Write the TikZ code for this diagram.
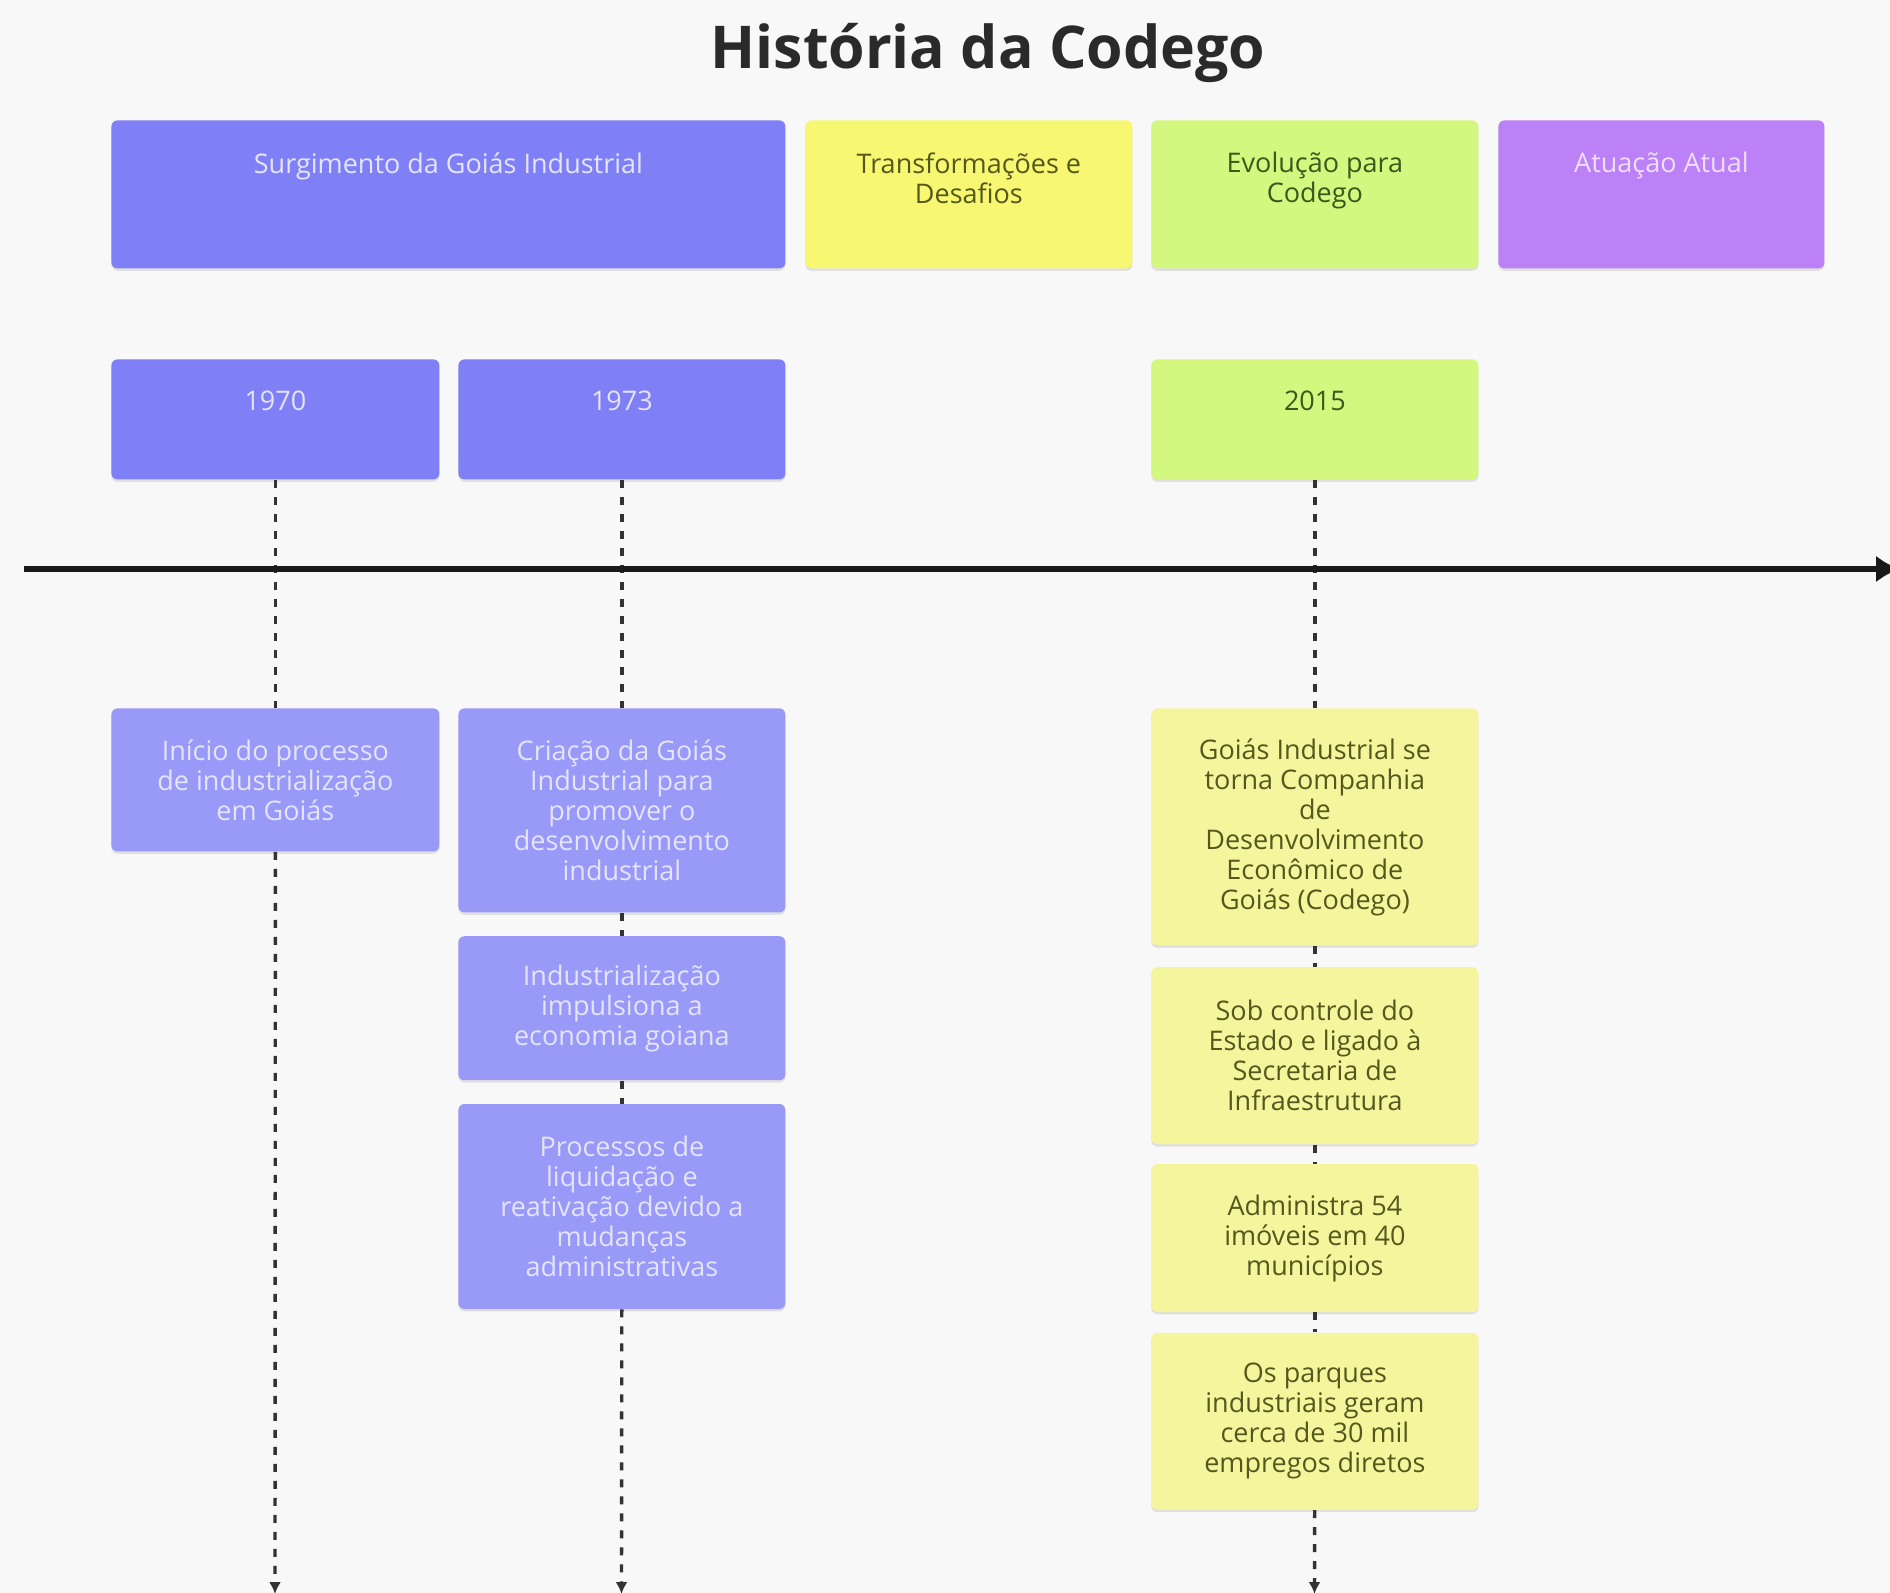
\documentclass[tikz,border=0pt]{standalone}
\usepackage{fontspec}
\setmainfont{Open Sans}
\usetikzlibrary{positioning,arrows.meta,shadows}
\definecolor{CodegoBg}{RGB}{248,248,248}
\definecolor{CodegoBlue}{RGB}{128,128,246}
\definecolor{CodegoBlueLight}{RGB}{153,153,248}
\definecolor{CodegoYellow}{RGB}{247,247,114}
\definecolor{CodegoYellowLight}{RGB}{245,245,157}
\definecolor{CodegoGreen}{RGB}{212,247,128}
\definecolor{CodegoPurple}{RGB}{188,128,247}
\definecolor{CodegoTextLight}{RGB}{228,228,255}
\definecolor{CodegoTextOlive}{RGB}{84,88,28}
\definecolor{CodegoTextGreen}{RGB}{60,88,26}
\definecolor{CodegoTextPurple}{RGB}{238,222,255}
\definecolor{CodegoTitle}{RGB}{42,42,42}

\begin{document}
\begin{tikzpicture}[x=0.5pt,y=-0.5pt,
  box/.style n args={4}{rectangle,fill=#1,text=#2,minimum width=#3,minimum height=#4,inner sep=0pt,rounded corners=3pt,anchor=north west,align=center,font=\fontsize{13.5}{15}\selectfont,drop shadow={shadow xshift=0pt,shadow yshift=-1.2pt,opacity=0.2}},
  boxtext/.style={anchor=north,inner sep=0pt,align=center,font=\fontsize{13.5}{15}\selectfont},
  dot/.style={draw=black!80,line width=1.7pt,dash pattern=on 4pt off 4.5pt},
  axis/.style={draw=black!90,line width=3pt,-{Latex[length=12pt,width=13.5pt]}}]
\fill[CodegoBg] (0,0) rectangle (1890,1593);
\useasboundingbox (0,0) rectangle (1890,1593);
\node[font=\fontsize{29.5}{34}\selectfont\bfseries,text=CodegoTitle] (title) at (988,53) {História da Codego};
% periods
\foreach \n/\x/\w/\c/\t/\lbl in %
{surg/111/337pt/CodegoBlue/CodegoTextLight/{Surgimento da Goiás Industrial},
 transf/805/163.5pt/CodegoYellow/CodegoTextOlive/{Transformações e\\Desafios},
 evol/1151/163.5pt/CodegoGreen/CodegoTextGreen/{Evolução para\\Codego},
 atual/1498/163pt/CodegoPurple/CodegoTextPurple/{Atuação Atual}} {
   \node[box={\c}{\t}{\w}{74pt}] (\n) at (\x,120) {};
   \node[boxtext,text=\t] (\n-txt) at ([yshift=-16pt]\n.north) {\lbl};
}
% years
\foreach \n/\x/\w/\c/\t/\yr in %
{y1970/111/164pt/CodegoBlue/CodegoTextLight/1970,
 y1973/458/163.5pt/CodegoBlue/CodegoTextLight/1973,
 y2015/1151/163.5pt/CodegoGreen/CodegoTextGreen/2015} {
   \node[box={\c}{\t}{\w}{60pt}] (\n) at (\x,359) {};
   \node[boxtext,text=\t] (\n-txt) at ([yshift=-16pt]\n.north) {\yr};
}
% events
\node[box={CodegoBlueLight}{CodegoTextLight}{164pt}{71.5pt}] (e1) at (111,708) {Início do processo\\de industrialização\\em Goiás};
\node[box={CodegoBlueLight}{CodegoTextLight}{163.5pt}{102pt}] (e2) at (458,708) {Criação da Goiás\\Industrial para\\promover o\\desenvolvimento\\industrial};
\node[box={CodegoBlueLight}{CodegoTextLight}{163.5pt}{72pt},below=11.5pt of e2] (e3) {Industrialização\\impulsiona a\\economia goiana};
\node[box={CodegoBlueLight}{CodegoTextLight}{163.5pt}{102.5pt},below=11.5pt of e3] (e4) {Processos de\\liquidação e\\reativação devido a\\mudanças\\administrativas};
\node[box={CodegoYellowLight}{CodegoTextOlive}{163.5pt}{118.5pt}] (e5) at (1151,708) {Goiás Industrial se\\torna Companhia\\de\\Desenvolvimento\\Econômico de\\Goiás (Codego)};
\node[box={CodegoYellowLight}{CodegoTextOlive}{163.5pt}{88.5pt},below=10.5pt of e5] (e6) {Sob controle do\\Estado e ligado à\\Secretaria de\\Infraestrutura};
\node[box={CodegoYellowLight}{CodegoTextOlive}{163.5pt}{74pt},below=9.5pt of e6] (e7) {Administra 54\\imóveis em 40\\municípios};
\node[box={CodegoYellowLight}{CodegoTextOlive}{163.5pt}{88.5pt},below=10pt of e7] (e8) {Os parques\\industriais geram\\cerca de 30 mil\\empregos diretos};
\coordinate (endA) at (275,1594);
\coordinate (endB) at (621.5,1594);
\coordinate (endC) at (1314.5,1594);
% dotted links
\draw[dot] (y1970) -- (e1);
\draw[dot,-{Latex[length=6pt,width=6pt]}] (e1) -- (endA);
\draw[dot] (y1973) -- (e2);
\draw[dot] (e2) -- (e3);
\draw[dot] (e3) -- (e4);
\draw[dot,-{Latex[length=6pt,width=6pt]}] (e4) -- (endB);
\draw[dot] (y2015) -- (e5);
\draw[dot] (e5) -- (e6);
\draw[dot] (e6) -- (e7);
\draw[dot] (e7) -- (e8);
\draw[dot,-{Latex[length=6pt,width=6pt]}] (e8) -- (endC);
% time axis
\coordinate (axisL) at (24,569);
\coordinate (axisR) at (1900,569);
\draw[axis] (axisL) -- (axisR);
\end{tikzpicture}
\end{document}
